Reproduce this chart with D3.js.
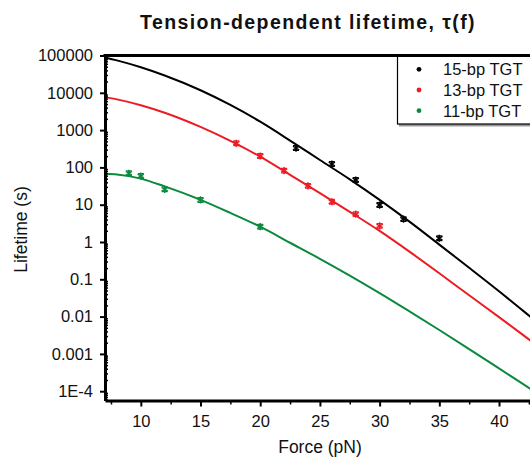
<!DOCTYPE html>
<html><head><meta charset="utf-8">
<script src="https://cdn.jsdelivr.net/npm/d3@7"></script>
<style>
html,body{margin:0;padding:0;background:#fff;overflow:hidden;}
text{font-family:"Liberation Sans",Arial,sans-serif;}
</style></head>
<body>
<svg id="chart" width="530" height="458"></svg>
<script>
// ---- data ----
const forceGrid = [7, 8, 10, 12, 15, 17.5, 20, 22.5, 25, 27.5, 30, 32.5, 35, 37.5, 40, 42.5, 45];
const fit15 = [89000, 74100, 48400, 29100, 11700, 4730, 1680, 525, 158, 47.9, 13.5, 3.51, 0.851, 0.204, 0.0479, 0.0107, 0.00234];
const fit13 = [7670, 6670, 4660, 2920, 1216, 513, 194, 63.1, 20.4, 6.46, 1.98, 0.55, 0.145, 0.0372, 0.00966, 0.00245, 0.000617];
const fit11 = [67.6, 64.6, 50.1, 30.9, 13.5, 6.03, 2.57, 0.955, 0.355, 0.126, 0.0427, 0.0138, 0.00437, 0.00135, 0.000407, 0.000123, 0.0000372];

const pts15F = [23, 26, 28, 30, 32, 35];
const pts15T = [330, 123, 46, 9.8, 4.1, 1.26];
const pts13F = [18, 20, 22, 24, 26, 28, 30];
const pts13T = [443, 202, 82, 32, 12, 5.6, 2.7];
const pts11F = [9, 10, 12, 15, 20];
const pts11T = [69.5, 58.7, 25.9, 13.4, 2.57];

const seriesNames = ["15-bp TGT", "13-bp TGT", "11-bp TGT"];
const seriesColors = ["#000000", "#ed1c24", "#0b8a3e"];

const xTicks = [10, 15, 20, 25, 30, 35, 40];
const xMinorTicks = [7.5, 12.5, 17.5, 22.5, 27.5, 32.5, 37.5, 42.5];
const yTicks = [1e5, 1e4, 1e3, 1e2, 10, 1, 0.1, 0.01, 0.001, 1e-4];
const yTickLabels = ["100000", "10000", "1000", "100", "10", "1", "0.1", "0.01", "0.001", "1E-4"];

// ---- layout ----
const svg = d3.select("#chart");
const plotLeft = 105, plotTop = 55.5, plotBottom = 400.5;
const pxPerPN = 11.94, pxPerDecade = 37.3;
const x = d3.scaleLinear().domain([7, 45]).range([plotLeft, plotLeft + 38 * pxPerPN]);
const yBottomVal = Math.pow(10, 5 - (plotBottom - plotTop) / pxPerDecade);
const y = d3.scaleLog().domain([yBottomVal, 1e5]).range([plotBottom, plotTop]);

const yMinor = [];
for (let e = -5; e < 5; e++) for (let m = 2; m <= 9; m++) {
  const v = m * Math.pow(10, e);
  if (v >= yBottomVal && v <= 1e5) yMinor.push(v);
}

// clip
svg.append("defs").append("clipPath").attr("id", "plotclip")
  .append("rect").attr("x", plotLeft).attr("y", plotTop).attr("width", 600).attr("height", plotBottom - plotTop);

// title
svg.append("text").attr("x", 308).attr("y", 29).attr("text-anchor", "middle")
  .attr("font-size", 19.5).attr("font-weight", "bold").attr("fill", "#111")
  .attr("letter-spacing", 1.4)
  .text("Tension-dependent lifetime, τ(f)");

// curves
const fits = [fit15, fit13, fit11];
const line = d3.line().x(d => x(d[0])).y(d => y(d[1])).curve(d3.curveMonotoneX);
const g = svg.append("g").attr("clip-path", "url(#plotclip)");
fits.forEach((f, i) => {
  g.append("path").datum(forceGrid.map((fv, j) => [fv, f[j]]))
    .attr("d", line).attr("fill", "none").attr("stroke", seriesColors[i]).attr("stroke-width", 2);
});

// data points
const ptsF = [pts15F, pts13F, pts11F];
const ptsT = [pts15T, pts13T, pts11T];
const sym = d3.symbol().type(d3.symbolAsterisk).size(36);
ptsF.forEach((fa, i) => {
  fa.forEach((fv, j) => {
    const cx = x(fv), cy = y(ptsT[i][j]);
    const hi = y(ptsT[i][j] * 1.15), lo = y(ptsT[i][j] / 1.15);
    const eg = g.append("g").attr("stroke", seriesColors[i]).attr("stroke-width", 1.4).attr("fill", "none");
    eg.append("line").attr("x1", cx).attr("x2", cx).attr("y1", hi).attr("y2", lo);
    eg.append("line").attr("x1", cx - 3).attr("x2", cx + 3).attr("y1", hi).attr("y2", hi);
    eg.append("line").attr("x1", cx - 3).attr("x2", cx + 3).attr("y1", lo).attr("y2", lo);
    eg.append("path").attr("d", sym()).attr("transform", `translate(${cx},${cy})`);
  });
});

// axes
const yAxis = svg.append("g").attr("transform", `translate(${plotLeft},0)`)
  .call(d3.axisLeft(y).tickValues(yTicks).tickFormat((d, i) => yTickLabels[i]).tickSizeInner(5).tickSizeOuter(0).tickPadding(7));
yAxis.select(".domain").attr("stroke-width", 3);
yAxis.selectAll(".tick line").attr("stroke-width", 2);
yAxis.selectAll("text").attr("font-size", 16.5).attr("fill", "#111")
  .attr("font-family", "'Liberation Sans', Arial, sans-serif");

const yMinorAxis = svg.append("g").attr("transform", `translate(${plotLeft},0)`)
  .call(d3.axisRight(y).tickValues(yMinor).tickFormat("").tickSizeInner(3).tickSizeOuter(0));
yMinorAxis.select(".domain").remove();
yMinorAxis.selectAll(".tick line").attr("stroke-width", 1.5);

const xAxis = svg.append("g").attr("transform", `translate(0,${plotBottom})`)
  .call(d3.axisBottom(x).tickValues(xTicks).tickSizeInner(6).tickSizeOuter(0).tickPadding(9));
xAxis.select(".domain").attr("stroke-width", 3);
xAxis.selectAll(".tick line").attr("stroke-width", 2);
xAxis.selectAll("text").attr("font-size", 16.5).attr("fill", "#111")
  .attr("font-family", "'Liberation Sans', Arial, sans-serif");

const xMinorAxis = svg.append("g").attr("transform", `translate(0,${plotBottom})`)
  .call(d3.axisBottom(x).tickValues(xMinorTicks).tickFormat("").tickSizeInner(4).tickSizeOuter(0));
xMinorAxis.select(".domain").remove();
xMinorAxis.selectAll(".tick line").attr("stroke-width", 1.5);

// top frame
svg.append("line").attr("x1", plotLeft - 1.5).attr("x2", 600).attr("y1", plotTop).attr("y2", plotTop)
  .attr("stroke", "#000").attr("stroke-width", 3);

// axis titles
svg.append("text").attr("x", 320).attr("y", 453).attr("text-anchor", "middle")
  .attr("font-size", 17.5).attr("fill", "#111").text("Force (pN)");
svg.append("text").attr("transform", "translate(27,229.5) rotate(-90)").attr("text-anchor", "middle")
  .attr("font-size", 17.5).attr("fill", "#111").text("Lifetime (s)");

// legend
const lg = svg.append("g");
lg.append("rect").attr("x", 399).attr("y", plotTop + 2).attr("width", 200).attr("height", 69)
  .attr("fill", "#999").attr("stroke", "none");
lg.append("rect").attr("x", 397.5).attr("y", plotTop).attr("width", 200).attr("height", 68.5)
  .attr("fill", "#fff").attr("stroke", "#000").attr("stroke-width", 1.2);
lg.append("line").attr("x1", 397).attr("x2", 600).attr("y1", plotTop).attr("y2", plotTop)
  .attr("stroke", "#000").attr("stroke-width", 3);
const legY = [69.3, 90, 110.7];
seriesNames.forEach((n, i) => {
  lg.append("circle").attr("cx", 419).attr("cy", legY[i]).attr("r", 2.4).attr("fill", seriesColors[i]);
  lg.append("text").attr("x", 443).attr("y", legY[i] + 6).attr("font-size", 16.5).attr("fill", "#111").text(n);
});
</script>
</body></html>
